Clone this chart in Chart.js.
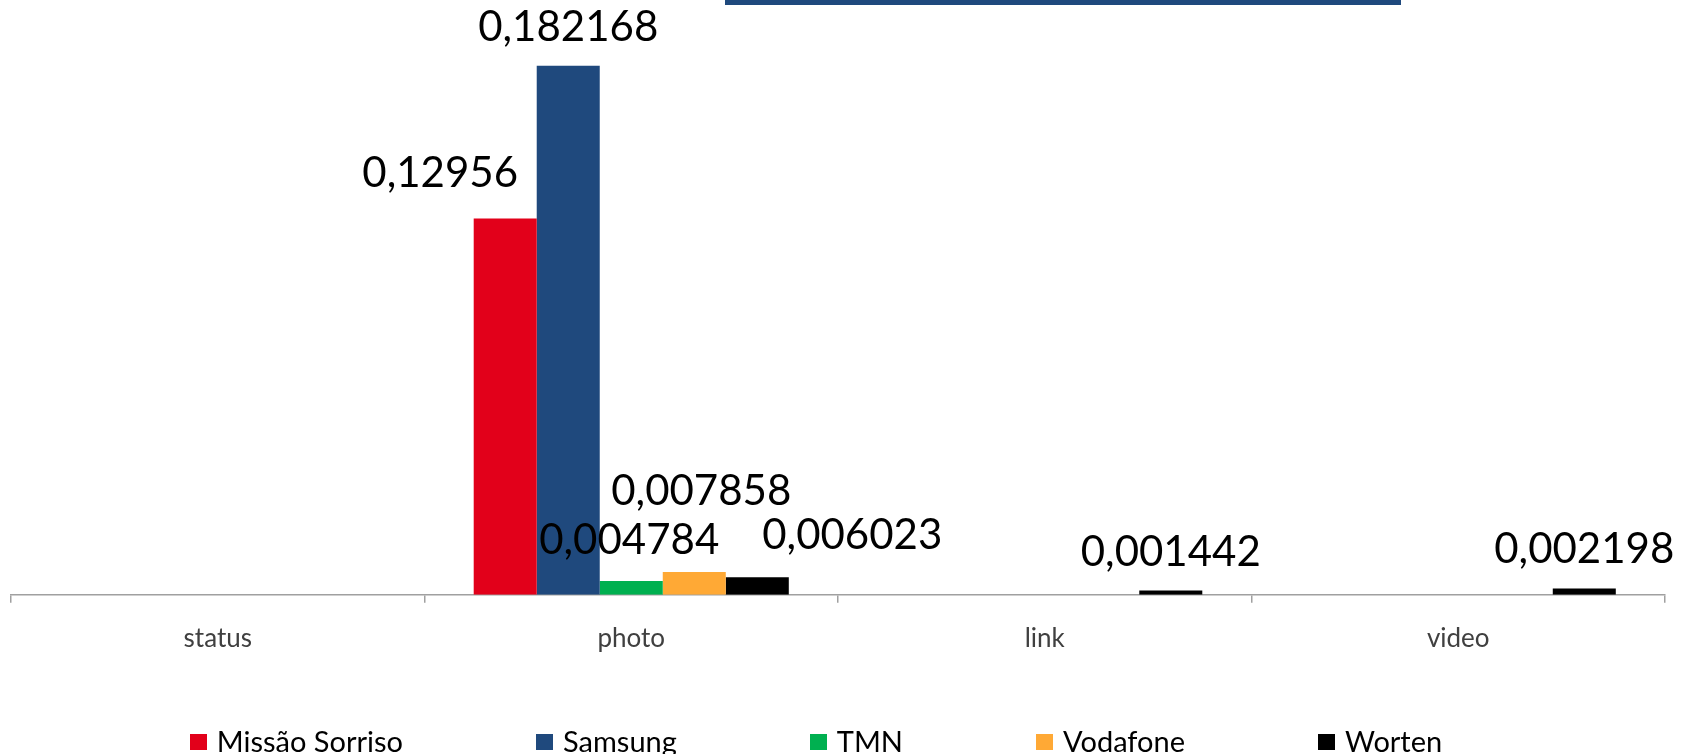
<!DOCTYPE html>
<html>
<head>
<meta charset="utf-8">
<script src="https://cdn.jsdelivr.net/npm/chart.js@4"></script>
<style>
  html, body { margin: 0; padding: 0; background: #fff; }
  #wrap { position: relative; width: 1691px; height: 754px; }
  #legend {
    position: absolute; left: 0; top: 723px; width: 1632px;
    display: flex; justify-content: center; gap: 133px;
    font-family: Lato, sans-serif; font-size: 29px; color: #000;
  }
  #legend .item { display: flex; align-items: center; white-space: nowrap; }
  #legend .box { width: 17px; height: 16px; margin-right: 10px; margin-top: 2px; }
</style>
</head>
<body>
<div id="wrap">
  <canvas id="chart"></canvas>
  <div id="legend"></div>
</div>
<script>
const categories = ['status', 'photo', 'link', 'video'];

const missaoSorriso = [null, 0.12956, null, null];
const samsung = [null, 0.182168, null, null];
const tmn = [null, 0.004784, null, null];
const vodafone = [null, 0.007858, null, null];
const worten = [null, 0.006023, 0.001442, 0.002198];

// labels that were dragged away from the default spot in the original chart
const labelNudge = {
    '0-1': [-65, -7],
    '2-1': [-2, -2],
    '3-1': [7, -42],
    '4-1': [95, -3]
};

const valueLabels = {
    id: 'valueLabels',
    afterDatasetsDraw(chart) {
        const ctx = chart.ctx;
        ctx.save();
        ctx.font = '42px Lato';
        ctx.fillStyle = '#000';
        ctx.textAlign = 'center';
        ctx.textBaseline = 'alphabetic';
        chart.data.datasets.forEach((ds, di) => {
            const meta = chart.getDatasetMeta(di);
            meta.data.forEach((bar, i) => {
                const v = ds.data[i];
                if (v === null || v === undefined) return;
                const nudge = labelNudge[di + '-' + i] || [0, 0];
                const text = String(v).replace('.', ',');
                ctx.fillText(text, bar.x + nudge[0], bar.y - 25 + nudge[1]);
            });
        });
        ctx.restore();
    }
};

// the dark strip left over from the title box at the top edge
const titleStrip = {
    id: 'titleStrip',
    afterDraw(chart) {
        const ctx = chart.ctx;
        ctx.save();
        ctx.fillStyle = '#1F497D';
        ctx.fillRect(725, 0, 676, 5);
        ctx.restore();
    }
};

const htmlLegend = {
    id: 'htmlLegend',
    afterUpdate(chart) {
        const box = document.getElementById('legend');
        box.innerHTML = '';
        chart.data.datasets.forEach(ds => {
            const item = document.createElement('div');
            item.className = 'item';
            const sq = document.createElement('span');
            sq.className = 'box';
            sq.style.background = ds.backgroundColor;
            const txt = document.createElement('span');
            txt.textContent = ds.label;
            item.appendChild(sq);
            item.appendChild(txt);
            box.appendChild(item);
        });
    }
};

const ctx = document.getElementById('chart');
new Chart(ctx, {
    type: 'bar',
    data: {
        labels: categories,
        datasets: [
            { label: 'Missão Sorriso', data: missaoSorriso, backgroundColor: '#E2001A' },
            { label: 'Samsung', data: samsung, backgroundColor: '#1F497D' },
            { label: 'TMN', data: tmn, backgroundColor: '#00B050' },
            { label: 'Vodafone', data: vodafone, backgroundColor: '#FFA935' },
            { label: 'Worten', data: worten, backgroundColor: '#000000' }
        ]
    },
    options: {
        responsive: true,
        maintainAspectRatio: false,
        animation: false,
        devicePixelRatio: 1,
        categoryPercentage: 0.762,
        barPercentage: 1,
        layout: {
            padding: { top: 14, left: 11, right: 26, bottom: 80 }
        },
        plugins: {
            legend: { display: false },
            tooltip: { enabled: false }
        },
        scales: {
            x: {
                offset: true,
                grid: {
                    offset: true,
                    drawOnChartArea: false,
                    drawTicks: true,
                    tickLength: 8,
                    color: '#A0A0A0',
                    lineWidth: 1.5
                },
                border: { color: '#A0A0A0', width: 1.5 },
                ticks: {
                    font: { family: 'Lato', size: 26 },
                    color: '#404040',
                    padding: 20
                }
            },
            y: {
                display: false,
                min: 0,
                max: 0.2
            }
        }
    },
    plugins: [valueLabels, titleStrip, htmlLegend]
});
</script>
</body>
</html>
